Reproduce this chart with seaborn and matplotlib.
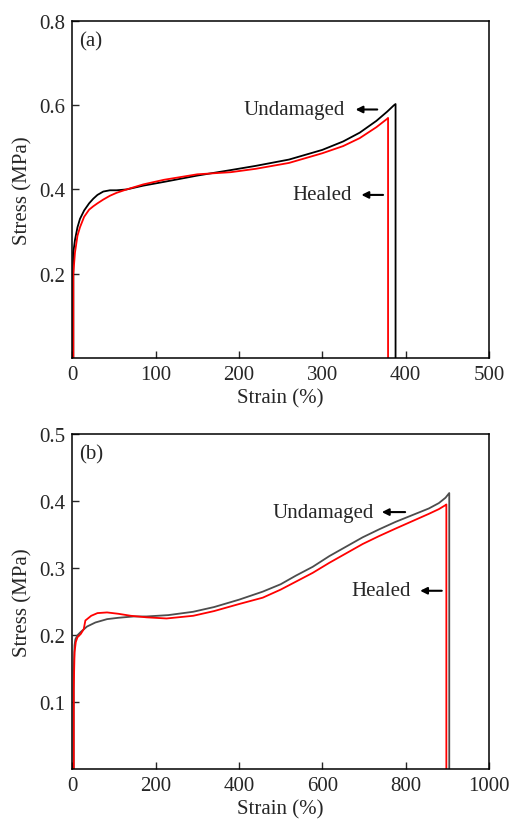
import matplotlib
matplotlib.use("Agg")
import matplotlib.pyplot as plt
import seaborn as sns
import pandas as pd

# -------------------
# Data
# -------------------

# (a) undamaged
a_und_strain = [1, 1, 3, 6, 9, 14, 20, 25, 30, 37, 45, 53, 65, 85, 110, 150, 190, 220,
                260, 300, 325, 345, 365, 378, 386, 388, 388]
a_und_stress = [0, 0.25, 0.28, 0.31, 0.33, 0.35, 0.367, 0.378, 0.387, 0.395, 0.398, 0.398,
                0.400, 0.409, 0.418, 0.433, 0.446, 0.456, 0.471, 0.494, 0.514, 0.535,
                0.563, 0.585, 0.600, 0.603, 0]

# (a) healed
a_heal_strain = [1, 1, 3, 6, 9, 14, 20, 25, 30, 37, 45, 53, 65, 85, 110, 150, 190, 220,
                 260, 300, 325, 345, 365, 378, 379, 379]
a_heal_stress = [0, 0.20, 0.25, 0.29, 0.31, 0.335, 0.352, 0.36, 0.367, 0.376, 0.385, 0.392,
                 0.400, 0.412, 0.423, 0.436, 0.441, 0.449, 0.463, 0.486, 0.503, 0.522,
                 0.548, 0.568, 0.570, 0]

# (b) undamaged
b_und_strain = [3, 3, 5, 7, 12, 20, 35, 55, 83, 110, 147, 178, 230, 290, 340, 400, 457,
                500, 537, 577, 617, 657, 697, 737, 776, 816, 856, 880, 896, 905, 905]
b_und_stress = [0, 0.15, 0.185, 0.194, 0.200, 0.205, 0.213, 0.219, 0.224, 0.226, 0.228,
                0.228, 0.230, 0.235, 0.242, 0.253, 0.265, 0.276, 0.289, 0.302, 0.318,
                0.332, 0.346, 0.358, 0.369, 0.379, 0.389, 0.397, 0.405, 0.412, 0]

# (b) healed
b_heal_strain = [3, 3, 5, 8, 12, 20, 27, 31, 45, 60, 83, 110, 140, 178, 226, 290, 340,
                 400, 457, 500, 537, 577, 617, 657, 697, 737, 776, 816, 856, 880, 896,
                 898, 898]
b_heal_stress = [0, 0.12, 0.175, 0.19, 0.197, 0.202, 0.209, 0.222, 0.229, 0.233, 0.234,
                 0.232, 0.229, 0.2267, 0.225, 0.229, 0.236, 0.2465, 0.256, 0.268, 0.280,
                 0.293, 0.308, 0.322, 0.336, 0.348, 0.359, 0.370, 0.381, 0.388, 0.394,
                 0.395, 0]

sns.set_style("ticks")
plt.rcParams['font.family'] = ['Liberation Serif', 'DejaVu Serif']
plt.rcParams['xtick.direction'] = 'in'
plt.rcParams['ytick.direction'] = 'in'
plt.rcParams['axes.linewidth'] = 1.1
plt.rcParams['axes.edgecolor'] = 'black'

fig = plt.figure(figsize=(5.14, 8.2), dpi=100)
ax1 = fig.add_axes([0.141, 0.5625, 0.810, 0.4105])
ax2 = fig.add_axes([0.141, 0.0605, 0.810, 0.409])


def draw(ax, strain, stress, color):
    df = pd.DataFrame({"strain": strain, "stress": stress})
    sns.lineplot(data=df, x="strain", y="stress", sort=False, estimator=None,
                 color=color, lw=1.3, ax=ax)


draw(ax1, a_und_strain, a_und_stress, "black")
draw(ax1, a_heal_strain, a_heal_stress, "#ff0000")
draw(ax2, b_und_strain, b_und_stress, "#4d4d4d")
draw(ax2, b_heal_strain, b_heal_stress, "#ff0000")

arrow = dict(arrowstyle='-|>', color='black', lw=1.5, mutation_scale=10,
             shrinkA=0, shrinkB=0)


def label(ax, text, x_text, y, x_tail, x_head):
    ax.annotate("", xy=(x_head, y), xytext=(x_tail, y), arrowprops=arrow)
    ax.text(x_text, y, text, ha='right', va='center', fontsize=15)


label(ax1, "Undamaged", 327, 0.590, 366, 340)
label(ax1, "Healed", 335, 0.387, 373, 347)
label(ax2, "Undamaged", 725, 0.3836, 799, 743)
label(ax2, "Healed", 813, 0.2663, 887, 835)

ax1.set_xlim(0, 500)
ax1.set_ylim(0, 0.8)
ax1.set_xticks([0, 100, 200, 300, 400, 500])
ax1.set_yticks([0.2, 0.4, 0.6, 0.8])
ax1.set_yticklabels(["0.2", "0.4", "0.6", "0.8"])

ax2.set_xlim(0, 1000)
ax2.set_ylim(0, 0.5)
ax2.set_xticks([0, 200, 400, 600, 800, 1000])
ax2.set_yticks([0.1, 0.2, 0.3, 0.4, 0.5])
ax2.set_yticklabels(["0.1", "0.2", "0.3", "0.4", "0.5"])

for ax, tag in [(ax1, "(a)"), (ax2, "(b)")]:
    ax.set_xlabel("Strain (%)", fontsize=15, labelpad=3)
    ax.set_ylabel("Stress (MPa)", fontsize=15, labelpad=5)
    ax.tick_params(labelsize=15, length=5, width=1.0, top=False, right=False, pad=5)
    ax.text(0.017, 0.94, tag, transform=ax.transAxes, fontsize=15, va='center')
    for s in ax.spines.values():
        s.set_visible(True)
        s.set_color('black')

fig.savefig("out.png", dpi=100)
